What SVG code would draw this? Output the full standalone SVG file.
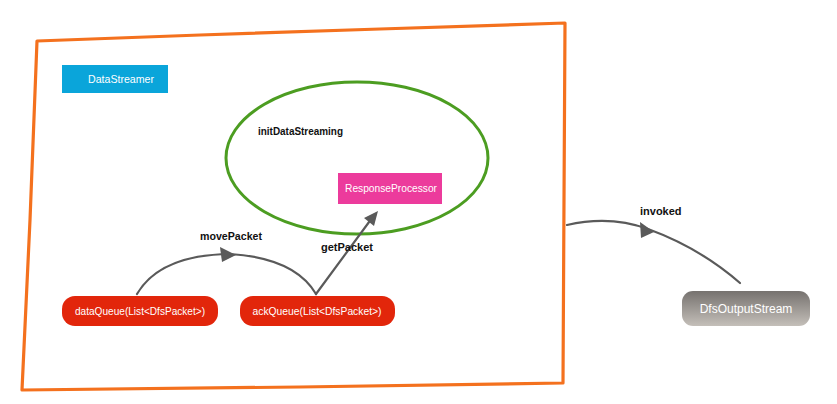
<svg xmlns="http://www.w3.org/2000/svg" width="837" height="404" viewBox="0 0 837 404">
<defs>
<style>
.lbl{font-family:"Liberation Sans",Arial,sans-serif;font-size:11px;font-weight:bold;fill:#111;}
.wt{font-family:"Liberation Sans",Arial,sans-serif;font-size:11px;fill:#fff;text-anchor:middle;}
.conn{fill:none;stroke:#5a5a5a;stroke-width:2.2;stroke-linecap:round;}
.ah{fill:#5a5a5a;}
</style>
<linearGradient id="gray" x1="0" y1="0" x2="0" y2="1">
<stop offset="0" stop-color="#76726f"/>
<stop offset="1" stop-color="#c4bfb9"/>
</linearGradient>
</defs>
<rect width="837" height="404" fill="#fff"/>
<g id="frame">
<path d="M37 41 L200 35 L380 29 L565 23 L564 200 L563 383 L300 387 L22 390 L30 220 Z" fill="none" stroke="#f4711e" stroke-width="3.2" stroke-linejoin="round"/>
</g>
<g id="initDataStreaming">
<ellipse cx="357" cy="158" rx="131" ry="76" fill="none" stroke="#4c9d21" stroke-width="3"/>
<text class="lbl" x="258" y="135" textLength="85" lengthAdjust="spacingAndGlyphs">initDataStreaming</text>
</g>
<g id="DataStreamer">
<rect x="62" y="65" width="106" height="28" fill="#0aa5da"/>
<text class="wt" x="121" y="83" textLength="66" lengthAdjust="spacingAndGlyphs">DataStreamer</text>
</g>
<g id="ResponseProcessor">
<rect x="338" y="173" width="104" height="31" fill="#ec3b9c"/>
<text class="wt" x="391" y="192" textLength="92" lengthAdjust="spacingAndGlyphs">ResponseProcessor</text>
</g>
<g id="dataQueue">
<rect x="62" y="296" width="156" height="30" rx="13" fill="#e2260b"/>
<text class="wt" x="140" y="315" textLength="130" lengthAdjust="spacingAndGlyphs">dataQueue(List&lt;DfsPacket&gt;)</text>
</g>
<g id="ackQueue">
<rect x="240" y="296" width="155" height="30" rx="13" fill="#e2260b"/>
<text class="wt" x="317" y="315" textLength="129" lengthAdjust="spacingAndGlyphs">ackQueue(List&lt;DfsPacket&gt;)</text>
</g>
<g id="DfsOutputStream">
<rect x="682" y="291" width="128" height="35" rx="11" fill="url(#gray)"/>
<text class="wt" x="746" y="313" style="font-size:12px">DfsOutputStream</text>
</g>
<g id="connectors">
<path class="conn" d="M137 294 Q 160 255 230 254 Q 295 258 316 294"/>
<polygon class="ah" points="236,255 220,247 222,262"/>
<text class="lbl" x="231" y="240" text-anchor="middle" textLength="62" lengthAdjust="spacingAndGlyphs">movePacket</text>
<path class="conn" d="M316 294 L372 218"/>
<polygon class="ah" points="378,211 364,218 374,226"/>
<text class="lbl" x="321" y="251">getPacket</text>
<path class="conn" d="M567 225 Q 610 215 648 229 Q 700 248 740 283"/>
<polygon class="ah" points="654,232 640,222 641,238"/>
<text class="lbl" x="640" y="215">invoked</text>
</g>
</svg>
